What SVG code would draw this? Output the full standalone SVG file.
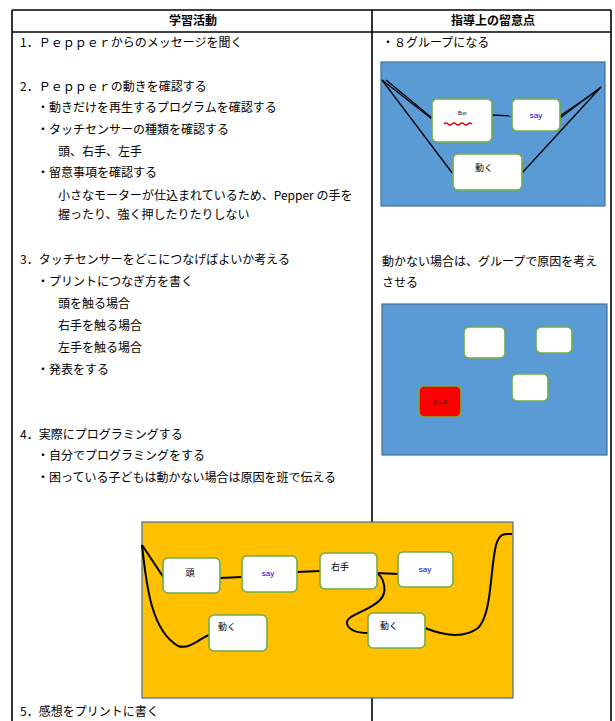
<svg xmlns="http://www.w3.org/2000/svg" width="615" height="721" viewBox="0 0 615 721">
<style>
text{font-family:"Noto Sans CJK JP","Noto Sans",sans-serif;font-size:12px;fill:#000}
.h{font-weight:bold;text-anchor:middle}
.tbl{stroke:#000;stroke-width:1.6;fill:none}
.node{fill:#fff;stroke:#70AD47;stroke-width:1.6}
.panel-b{fill:#5B9BD5;stroke:#41719C;stroke-width:1.2}
.panel-o{fill:#FFC000;stroke:#41719C;stroke-width:1.2}
.c{stroke:#000;stroke-width:1.3;fill:none}
.cc{stroke:#000;stroke-width:2;fill:none}
.lbl{font-size:9px;text-anchor:middle}
.say{font-size:8px;fill:#0000CC;text-anchor:middle;font-family:"Liberation Sans",sans-serif}
</style>
<rect width="615" height="721" fill="#fff"/>
<g id="table">
<line class="tbl" x1="12" y1="10" x2="611" y2="10"/>
<line class="tbl" x1="12" y1="32" x2="611" y2="32"/>
<line class="tbl" x1="12" y1="10" x2="12" y2="721"/>
<line class="tbl" x1="372" y1="10" x2="372" y2="721"/>
<line class="tbl" x1="611" y1="10" x2="611" y2="721"/>
<text class="h" x="193" y="25">学習活動</text>
<text class="h" x="493" y="25">指導上の留意点</text>
</g>
<g id="left-text">
<text x="20" y="47">1．Ｐｅｐｐｅｒからのメッセージを聞く</text>
<text x="20" y="91">2．Ｐｅｐｐｅｒの動きを確認する</text>
<text x="37" y="112">・動きだけを再生するプログラムを確認する</text>
<text x="37" y="134">・タッチセンサーの種類を確認する</text>
<text x="58" y="156">頭、右手、左手</text>
<text x="37" y="177">・留意事項を確認する</text>
<text x="58" y="200">小さなモーターが仕込まれているため、Pepper の手を</text>
<text x="58" y="219">握ったり、強く押したりたりしない</text>
<text x="20" y="264">3．タッチセンサーをどこにつなげばよいか考える</text>
<text x="37" y="286">・プリントにつなぎ方を書く</text>
<text x="58" y="308">頭を触る場合</text>
<text x="58" y="330">右手を触る場合</text>
<text x="58" y="352">左手を触る場合</text>
<text x="37" y="374">・発表をする</text>
<text x="20" y="439">4．実際にプログラミングする</text>
<text x="37" y="460">・自分でプログラミングをする</text>
<text x="37" y="482">・困っている子どもは動かない場合は原因を班で伝える</text>
<text x="20" y="716">5．感想をプリントに書く</text>
</g>
<g id="right-text">
<text x="382" y="47">・８グループになる</text>
<text x="382" y="266">動かない場合は、グループで原因を考え</text>
<text x="382" y="287">させる</text>
</g>
<g id="panel1">
<rect class="panel-b" x="381" y="62" width="224" height="144"/>
<g id="p1-connectors">
<line class="c" x1="382" y1="80" x2="432" y2="119"/>
<line class="c" x1="386" y1="80" x2="432" y2="118"/>
<line class="c" x1="382" y1="80" x2="453" y2="174"/>
<line class="c" x1="492" y1="115" x2="512" y2="116"/>
<line class="c" x1="601" y1="87" x2="560" y2="118"/>
<line class="c" x1="598" y1="90" x2="560" y2="116"/>
<line class="c" x1="601" y1="87" x2="522" y2="173"/>
</g>
<g id="p1-n1"><rect class="node" x="432" y="99" width="60" height="43" rx="5"/><text x="458" y="115" style="font-size:5px;font-family:'Liberation Sans',sans-serif">Bus</text><path d="M444 124 q2 -2 4 0 t4 0 t4 0 t4 0 t4 0 t4 0 t4 0" stroke="#E00" stroke-width="1.5" fill="none"/></g>
<g id="p1-n2"><rect class="node" x="512" y="99" width="48" height="32" rx="5"/><text class="say" x="536" y="118">say</text></g>
<g id="p1-n3"><rect class="node" x="453" y="154" width="69" height="36" rx="5"/><text class="lbl" x="484" y="171">動く</text></g>
</g>
<g id="panel2">
<rect class="panel-b" x="382" y="304" width="225" height="151"/>
<g id="p2-n1"><rect class="node" x="464" y="327" width="41" height="31" rx="5"/></g>
<g id="p2-n2"><rect class="node" x="536" y="327" width="36" height="26" rx="5"/></g>
<g id="p2-n3"><rect class="node" x="512" y="374" width="36" height="27" rx="5"/></g>
<g id="p2-n4"><rect x="419" y="386" width="42" height="31" rx="5" fill="#FF0000" stroke="#70AD47" stroke-width="1.6"/><text x="440" y="404" style="font-size:5px;text-anchor:middle">タッチ</text></g>
</g>
<g id="panel3">
<rect class="panel-o" x="142" y="522" width="371" height="176"/>
<g id="p3-connectors">
<line class="cc" x1="142" y1="545" x2="164" y2="578"/>
<path class="cc" d="M142 545 C146 580,150 630,178 646 C190 650,200 638,209 635"/>
<line class="cc" x1="220" y1="578" x2="242" y2="577"/>
<line class="cc" x1="297" y1="572" x2="320" y2="571"/>
<line class="cc" x1="377" y1="573" x2="398" y2="574"/>
<path class="cc" d="M377 573 C384 578,388 592,380 600 C368 612,345 615,347 624 C350 632,360 633,368 633"/>
<path class="cc" d="M425 628 C440 634,462 640,478 628 C492 614,490 570,496 545 C500 532,505 534,512 534"/>
</g>
<g id="p3-n1"><rect class="node" x="163" y="558" width="57" height="35" rx="5"/><text class="lbl" x="190" y="576">頭</text></g>
<g id="p3-n2"><rect class="node" x="242" y="556" width="55" height="36" rx="5"/><text class="say" x="268" y="576">say</text></g>
<g id="p3-n3"><rect class="node" x="320" y="553" width="57" height="36" rx="5"/><text class="lbl" x="340" y="570">右手</text></g>
<g id="p3-n4"><rect class="node" x="398" y="552" width="55" height="35" rx="5"/><text class="say" x="425" y="572">say</text></g>
<g id="p3-n5"><rect class="node" x="209" y="615" width="58" height="36" rx="5"/><text class="lbl" x="227" y="630">動く</text></g>
<g id="p3-n6"><rect class="node" x="368" y="613" width="57" height="35" rx="5"/><text class="lbl" x="389" y="629">動く</text></g>
</g>
</svg>
